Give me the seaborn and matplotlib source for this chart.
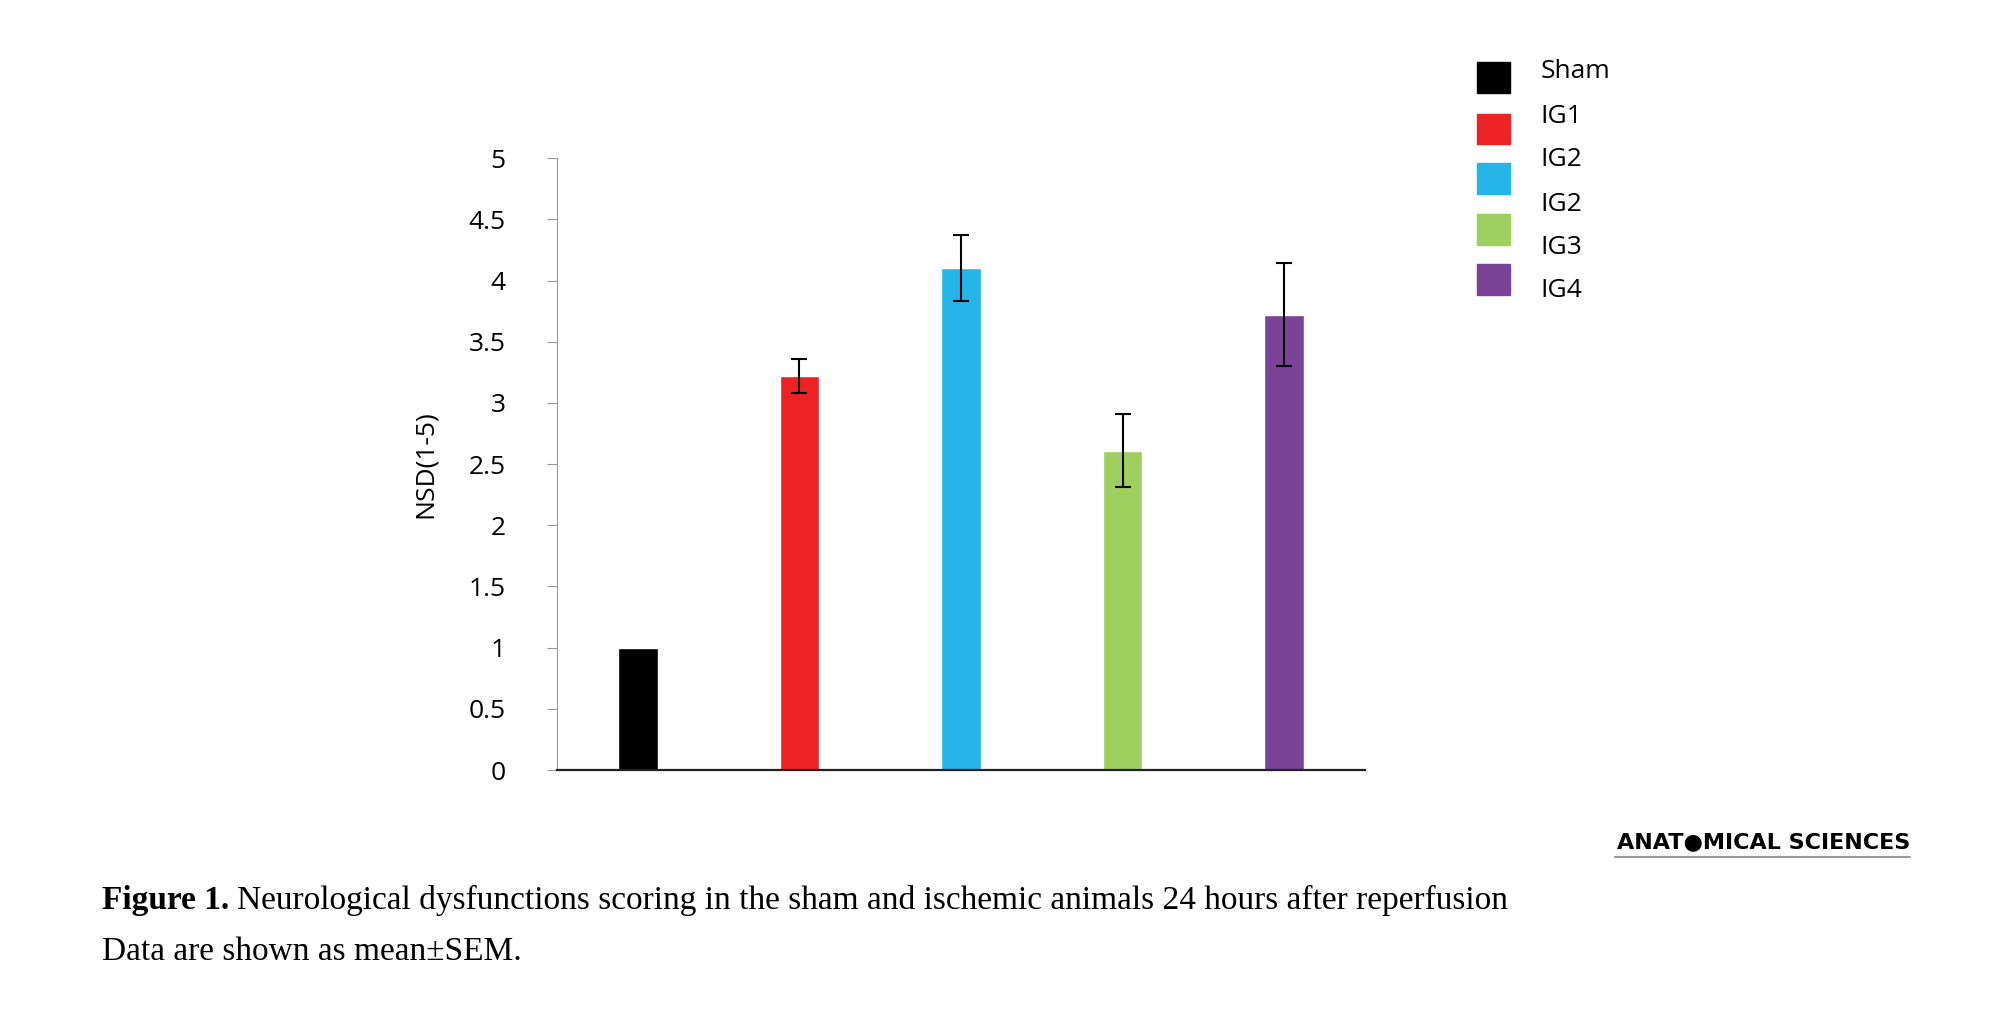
import matplotlib
matplotlib.use('Agg')
import matplotlib.pyplot as plt
import seaborn as sns
import pandas as pd

groups = ["Sham", "IG1", "IG2", "IG3", "IG4"]
means = [1.0, 3.22, 4.10, 2.61, 3.72]
sems = [0.0, 0.14, 0.27, 0.30, 0.42]
colors = ["#000000", "#ED2224", "#25B5E9", "#9FCF5E", "#7B4397"]
legend_labels = ["Sham", "IG1", "IG2", "IG2", "IG3", "IG4"]

df = pd.DataFrame({"group": groups, "mean": means})

sns.set_style("white")
plt.rcParams['font.family'] = ['Open Sans', 'DejaVu Sans']
plt.rcParams['text.color'] = 'black'
plt.rcParams['ytick.labelcolor'] = 'black'
plt.rcParams['axes.labelcolor'] = 'black'

fig = plt.figure(figsize=(20, 10.14), dpi=100)
ax = fig.add_axes([0.2785, 0.2406, 0.404, 0.6034])
sns.barplot(data=df, x="group", y="mean", hue="group", palette=colors,
            width=0.245, legend=False, ax=ax, saturation=1)
ax.errorbar(range(1, 5), means[1:], yerr=sems[1:], fmt='none', ecolor='black',
            elinewidth=1.5, capsize=6, capthick=1.5)
ax.set_xlim(-0.5, 4.5)
ax.set_ylim(0, 5)
ax.set_yticks([0, 0.5, 1, 1.5, 2, 2.5, 3, 3.5, 4, 4.5, 5])
ax.set_yticklabels(["0", "0.5", "1", "1.5", "2", "2.5", "3", "3.5", "4", "4.5", "5"])
ax.set_xticks([])
ax.set_xlabel("")
ax.set_ylabel("NSD(1-5)", fontsize=19, labelpad=22)
ax.tick_params(axis='y', labelsize=19, left=True, length=7, color='#999999', pad=30)
for s in ["top", "right"]:
    ax.spines[s].set_visible(False)
ax.spines["left"].set_color("#999999")
ax.spines["bottom"].set_color("#222222")
ax.spines["bottom"].set_linewidth(1.6)

# legend drawn by hand (5 swatches, 6 labels as in original)
sq_y = [61, 101, 140, 180, 219]
lab_y = [56, 91, 125, 160, 194, 228]
sc = 2000 / 1568
for y, c in zip(sq_y, colors):
    fig.patches.append(plt.Rectangle((1158 * sc / 2000, 1 - (y + 12) * sc / 1014),
                                     26 * sc / 2000, 24 * sc / 1014, color=c,
                                     transform=fig.transFigure))
for y, t in zip(lab_y, legend_labels):
    fig.text(1208 * sc / 2000, 1 - y * sc / 1014, t, fontsize=19, va='center')

fig.text(0.955, 1 - 842 / 1014, "ANAT\u25CFMICAL SCIENCES", fontsize=16, fontweight='bold',
         ha='right', va='center', family=['DejaVu Sans'])
fig.add_artist(plt.Line2D([1615 / 2000, 1910 / 2000], [1 - 857 / 1014] * 2, color='#999999', lw=1.5))

fig.text(80 * sc / 2000, 1 - 706 * sc / 1014, "Figure 1.", fontsize=24, fontweight='bold',
         family=['Liberation Serif'], va='center')
fig.text(186 * sc / 2000, 1 - 706 * sc / 1014,
         "Neurological dysfunctions scoring in the sham and ischemic animals 24 hours after reperfusion",
         fontsize=24, family=['Liberation Serif'], va='center')
fig.text(80 * sc / 2000, 1 - 746 * sc / 1014, "Data are shown as mean\u00b1SEM.",
         fontsize=24, family=['Liberation Serif'], va='center')

fig.savefig("out.png", dpi=100)
